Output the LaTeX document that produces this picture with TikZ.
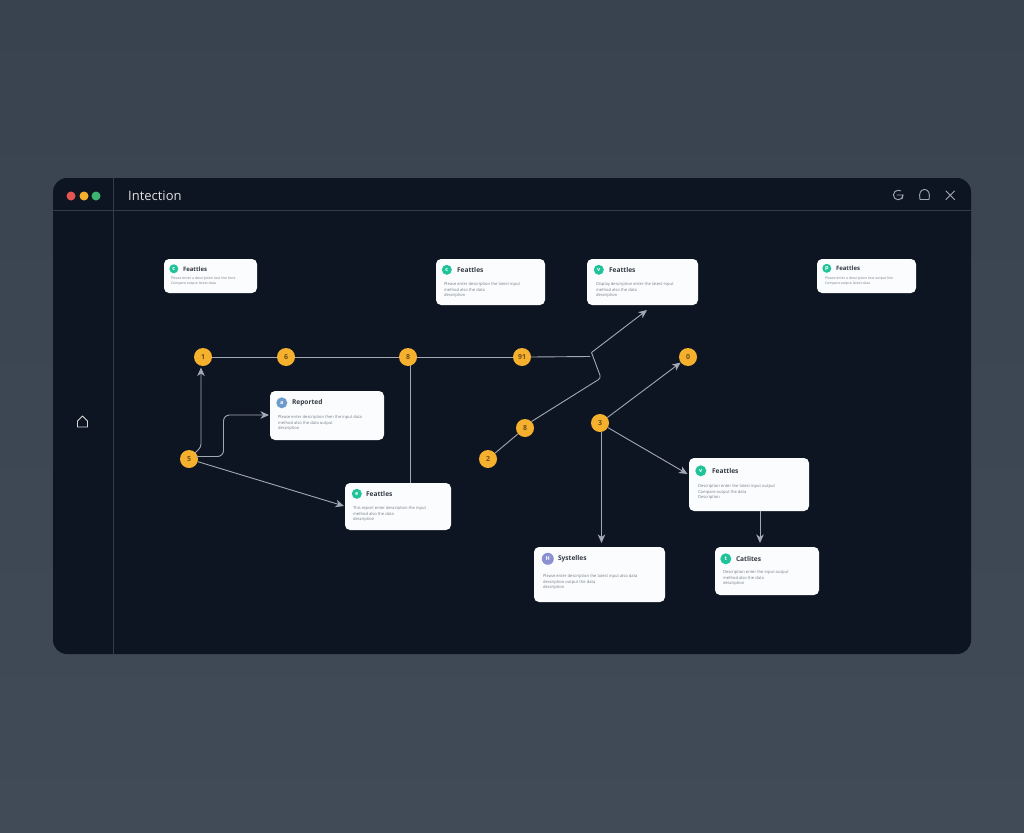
\documentclass[tikz,border=0pt]{standalone}
\usepackage{fontspec}
\setmainfont{Open Sans}
\usetikzlibrary{arrows.meta,calc}
\definecolor{bgtop}{HTML}{39434F}
\definecolor{bgbot}{HTML}{414B58}
\definecolor{win}{HTML}{0E1522}
\definecolor{rule}{HTML}{323D4B}
\definecolor{wire}{HTML}{A2A9B4}
\definecolor{amber}{HTML}{F5B02E}
\definecolor{teal}{HTML}{1FC39A}
\definecolor{bluei}{HTML}{6E9BCB}
\definecolor{violet}{HTML}{8A90D0}
\definecolor{inkd}{HTML}{333A44}
\definecolor{inkb}{HTML}{757C86}
\definecolor{cardw}{HTML}{FBFCFD}
\tikzset{
  x=1pt,y=-1pt,
  cardbox/.style={draw=none,fill=cardw,rounded corners=5pt,inner sep=0pt,anchor=center},
  iconbox/.style={circle,inner sep=0pt,minimum size=#1,text=white,font=\fontsize{5.5}{5.5}\selectfont\bfseries},
  titletext/.style={anchor=west,inner sep=0pt,text=inkd,font=\fontsize{6.6}{7}\selectfont\bfseries},
  smalltitle/.style={titletext,font=\fontsize{6}{7}\selectfont\bfseries},
  bodytext/.style={anchor=north west,inner sep=0pt,align=left,text=inkb,font=\fontsize{4.1}{5.6}\selectfont},
  smallbody/.style={bodytext,font=\fontsize{3.5}{5}\selectfont},
  hub/.style={circle,fill=amber,inner sep=0pt,minimum size=18pt,text=black!55!amber,font=\fontsize{7}{7}\selectfont\bfseries},
  wireline/.style={draw=wire,line width=0.9pt,line join=round},
  wirearrow/.style={wireline,-{Stealth[length=8.5pt,width=7.5pt,inset=2.5pt]}},
  dot/.style={circle,inner sep=0pt,minimum size=9pt},
  glyph/.style={draw=#1,line width=0.9pt,fill=none,line join=round,line cap=round},
}
% offsets: icon x,y; title x; body x,y; icon size
\newcommand{\cardoff}[6]{\def\oix{#1}\def\oiy{#2}\def\otx{#3}\def\obx{#4}\def\oby{#5}\def\ois{#6}}
\def\titlestyle{titletext}\def\bodystyle{bodytext}
% name, x1, y1, x2, y2, icon colour, glyph, title, body
\newcommand{\cardnode}[9]{%
  \node[cardbox,minimum width={(#4-#2)*1pt},minimum height={(#5-#3)*1pt}] (#1) at ({(#2+#4)/2},{(#3+#5)/2}) {};
  \node[iconbox=\ois pt,fill=#6] (#1-i) at ([xshift=\oix pt,yshift=-\oiy pt]#1.north west) {#7};
  \node[\titlestyle] (#1-t) at ([xshift=\otx pt,yshift=-\oiy pt]#1.north west) {#8};
  \node[\bodystyle] (#1-b) at ([xshift=\obx pt,yshift=-\oby pt]#1.north west) {#9};
}
\begin{document}
\begin{tikzpicture}
\useasboundingbox (0,0) rectangle (1024,832);
\shade[top color=bgtop,bottom color=bgbot] (0,0) rectangle (1024,832);
% window
\node[fill=win,rounded corners=14pt,inner sep=0pt,minimum width=918pt,minimum height=476pt] (window) at (512,416) {};
\coordinate (hl) at (53,210.5); \coordinate (hr) at (971,210.5);
\coordinate (st) at (113,178); \coordinate (sb) at (113,654);
\draw[rule,line width=1pt] (hl) -- (hr);
\draw[rule,line width=1pt] (st) -- (sb);
\node[dot,fill={rgb,255:red,228;green,84;blue,80}] (dr) at (71,196) {};
\node[dot,fill=amber] (dy) at (84,196) {};
\node[dot,fill={rgb,255:red,62;green,178;blue,112}] (dg) at (96,196) {};
\node[anchor=west,inner sep=0pt,text=gray!25!white,font=\fontsize{13}{14}\selectfont] (wtitle) at (128,196) {Intection};
% toolbar icons
\draw[glyph=wire] (903,195) arc[start angle=0,end angle=300,radius=4.8] ;
\draw[glyph=wire] (897,195) -- (903,195) -- (902,199);
\draw[glyph=wire] (920,199.5) .. controls (918.5,193) and (921,189.5) .. (924.5,189.5) .. controls (928,189.5) and (930.5,193) .. (929,199.5) -- cycle;
\draw[glyph=wire] (946,191) -- (954.5,199.5) (954.5,191) -- (946,199.5);
% sidebar icon
\draw[glyph=gray!30!white] (77.5,427) -- (77.5,421) -- (82.5,416) -- (87.5,421) -- (87.5,427) -- cycle;
% cards
\def\titlestyle{smalltitle}\def\bodystyle{smallbody}
\cardoff{10}{10}{19}{7}{18}{9}
\cardnode{ca}{164}{259}{257}{293}{teal}{c}{Feattles}{Please enter a description text line here\\Compare output latest data}
\cardoff{10}{9.5}{19}{8}{18}{9}
\cardnode{cd}{817}{259}{916}{293}{teal}{p}{Feattles}{Please enter a description text output line\\Compare output latest data}
\def\titlestyle{titletext}\def\bodystyle{bodytext}
\cardoff{11}{11}{21}{8}{23.5}{10}
\cardnode{cb}{436}{259}{545}{305}{teal}{c}{Feattles}{Please enter description the latest input\\method also the data\\description}
\cardoff{12}{11}{22}{9}{23.5}{10}
\cardnode{cc}{587}{259}{698}{305}{teal}{v}{Feattles}{Display description enter the latest input\\method also the data\\description}
\cardoff{12}{12}{22}{8}{24.5}{11}
\cardnode{ce}{270}{391}{384}{440}{bluei}{a}{Reported}{Please enter description then the input data\\method also the data output\\description}
\cardoff{12}{11}{21}{8}{23.5}{10}
\cardnode{cf}{345}{483}{451}{530}{teal}{e}{Feattles}{This report enter description the input\\method also the data\\description}
\cardoff{12}{13}{23}{9}{26.5}{11}
\cardnode{cg}{689}{458}{809}{511}{teal}{v}{Feattles}{Description enter the latest input output\\Compare output the data\\Description}
\cardoff{14}{12}{24}{9}{27.5}{12}
\cardnode{ch}{534}{547}{665}{602}{violet}{H}{Systelles}{Please enter description the latest input also data\\description output the data\\description}
\cardoff{11}{12}{21}{8}{23.5}{11}
\cardnode{ci}{715}{547}{819}{595}{teal}{t}{Catlites}{Description enter the input output\\method also the data\\description}
% hubs
\node[hub] (n1) at (203,357) {1};
\node[hub] (n2) at (286,357) {6};
\node[hub] (n3) at (408,357) {8};
\node[hub] (n4) at (522,357) {91};
\node[hub] (n5) at (688,357) {0};
\node[hub] (n6) at (189,459) {5};
\node[hub] (n7) at (525,428) {8};
\node[hub] (n8) at (488,459) {2};
\node[hub] (n9) at (600,423) {3};
% free bend points
\coordinate (bendin) at (590,356.5);
\coordinate (bendup) at (591.5,352.5);
\coordinate (benddn) at (601,378);
\coordinate (tipc) at (647,310);
\coordinate (v3a) at (410.5,365);
\coordinate (v3b) at (410.5,483);
\coordinate (upa) at (195,453);
\coordinate (upb) at (201,447);
\coordinate (upc) at (201,367.5);
\coordinate (rta) at (196,456.5);
\coordinate (rtb) at (223.5,456.5);
\coordinate (rtc) at (223.5,415);
\coordinate (rtd) at (269,415);
\coordinate (cfpt) at (344,506);
\coordinate (cgpt) at (687.5,474);
\coordinate (dna) at (601.5,432);
\coordinate (dnb) at (601.5,543);
\coordinate (cga) at (760,511);
\coordinate (cgb) at (760,543);
% connectors
\draw[wireline] (n1) -- (n2);
\draw[wireline] (n2) -- (n3);
\draw[wireline] (n3) -- (n4);
\draw[wireline] (n4.east) -- (bendin);
\draw[wirearrow] (bendup) -- (tipc);
\draw[wireline,rounded corners=3pt] (bendup) -- (benddn) -- (n7.45);
\draw[wireline] (n8) -- (n7);
\draw[wireline] (v3a) -- (v3b);
\draw[wirearrow,rounded corners=3pt] (upa) -- (upb) -- (upc);
\draw[wirearrow,rounded corners=6pt] (rta) -- (rtb) -- (rtc) -- (rtd);
\draw[wirearrow] (n6) -- (cfpt);
\draw[wirearrow] (n9) -- (n5);
\draw[wirearrow] (n9) -- (cgpt);
\draw[wirearrow] (dna) -- (dnb);
\draw[wirearrow] (cga) -- (cgb);
\end{tikzpicture}
\end{document}
